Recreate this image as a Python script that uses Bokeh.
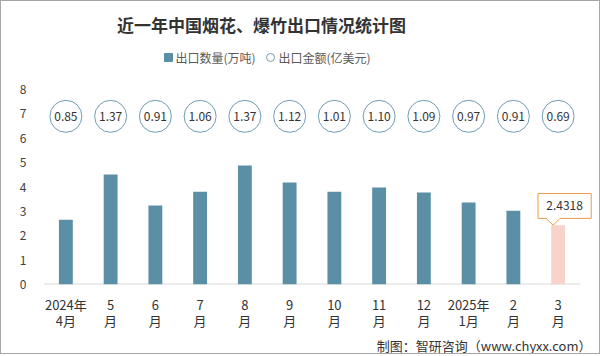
from bokeh.plotting import figure
from bokeh.models import ColumnDataSource, Range1d, LinearAxis, FixedTicker, Title
from bokeh.embed import file_html
from bokeh.resources import INLINE
from bokeh.core.properties import value

# ---- data ----
month_line1 = ["2024年", "5", "6", "7", "8", "9", "10", "11", "12", "2025年", "2", "3"]
month_line2 = ["4月", "月", "月", "月", "月", "月", "月", "月", "月", "1月", "月", "月"]
quantity = [2.66, 4.51, 3.24, 3.81, 4.88, 4.18, 3.81, 3.98, 3.77, 3.36, 3.03, 2.4318]  # 万吨
amount = [0.85, 1.37, 0.91, 1.06, 1.37, 1.12, 1.01, 1.10, 1.09, 0.97, 0.91, 0.69]   # 亿美元
y_ticks = [0, 1, 2, 3, 4, 5, 6, 7, 8]
series_names = ["出口数量(万吨)", "出口金额(亿美元)"]
title_text = "近一年中国烟花、爆竹出口情况统计图"
footer_text = "制图：智研咨询（www.chyxx.com）"

FONT = "Noto Sans CJK SC"
BAR = "#5B8FA6"
HI = "#F8D3C9"
CIRC = "#6F9DB3"
idx = list(range(len(quantity)))

W, H = 600, 354
LEFT, BOTTOM = 42, 71
PX_X = 44.75          # pixels per category
PX_Y = 24.375         # pixels per unit
frame_h = H - BOTTOM
x_end = -0.5 + (W - LEFT) / PX_X
y_end = frame_h / PX_Y


def dx(cx):   # canvas x -> data x
    return (cx - LEFT) / PX_X - 0.5


def dy(cy):   # canvas y -> data y
    return (frame_h - cy) / PX_Y


p = figure(width=W, height=H, x_range=Range1d(-0.5, x_end), y_range=Range1d(0, y_end),
           output_backend="svg", toolbar_location=None, title_location=None,
           x_axis_type=None, y_axis_type=None,
           min_border_left=LEFT, min_border_right=0, min_border_top=0, min_border_bottom=BOTTOM)
p.styles = {"border": "1px solid #a6a6a6"}
p.outline_line_color = None
p.background_fill_color = "white"
p.border_fill_color = "white"

# y axis
yaxis = LinearAxis(ticker=FixedTicker(ticks=y_ticks), axis_line_color=None,
                   major_tick_line_color=None, minor_tick_line_color=None,
                   major_label_standoff=11, major_label_text_font_size="12px",
                   major_label_text_color="#404040", major_label_text_font=FONT)
p.add_layout(yaxis, "left")

# x axes (two label lines)
for lines, standoff in ((month_line1, 4), (month_line2, -12)):
    ax = LinearAxis(ticker=FixedTicker(ticks=idx), axis_line_color=None,
                    major_tick_line_color=None, minor_tick_line_color=None,
                    major_label_standoff=standoff, major_label_text_font_size="13px",
                    major_label_text_color="#333333", major_label_text_font=FONT,
                    major_label_overrides={i: t for i, t in enumerate(lines)})
    p.add_layout(ax, "below")

# footer
foot = Title(text=footer_text, align="right", text_font=FONT, standoff=2, offset=10,
             text_font_size="13px", text_font_style="normal", text_color="#333333")
p.add_layout(foot, "below")

# title
p.text(x=[dx(260)], y=[dy(23)], text=[title_text], text_align="center", text_baseline="middle",
       text_font=value(FONT), text_font_size="17px", text_font_style="bold", text_color="#333333")

# legend (manual)
p.scatter(x=[dx(167)], y=[dy(56)], marker="square", size=8, fill_color=BAR, line_color=BAR)
p.text(x=[dx(174)], y=[dy(56)], text=[series_names[0]], text_align="left", text_baseline="middle",
       text_font=value(FONT), text_font_size="12px", text_color="#595959")
p.scatter(x=[dx(269)], y=[dy(56)], marker="circle", size=8, fill_color="white", line_color=CIRC)
p.text(x=[dx(277)], y=[dy(56)], text=[series_names[1]], text_align="left", text_baseline="middle",
       text_font=value(FONT), text_font_size="12px", text_color="#595959")

# baseline
p.segment(x0=[idx[0] - 0.5], y0=[0], x1=[idx[-1] + 0.5], y1=[0], line_color="#d9d9d9", line_width=2)

# bars
src_main = ColumnDataSource(dict(x=idx[:-1], y=quantity[:-1]))
src_last = ColumnDataSource(dict(x=idx[-1:], y=quantity[-1:]))
p.vbar(x="x", top="y", width=0.31, source=src_main, fill_color=BAR, line_color=None)
p.vbar(x="x", top="y", width=0.31, source=src_last, fill_color=HI, line_color=None)

# amount circles
circ_y = [6.9] * len(amount)
p.scatter(x=idx, y=circ_y, size=32, marker="circle", fill_color="white",
          line_color=CIRC, line_width=1)
p.text(x=idx, y=circ_y, text=["%.2f" % a for a in amount], text_align="center",
       text_baseline="middle", text_font_size="12px", text_color="#333333",
       text_font=value(FONT))

# callout for last bar
v = quantity[-1]
xi = idx[-1]
L, R, B, T = xi - 0.45, xi + 0.74, v + 0.28, v + 1.30
p.patch(x=[L, R, R, xi + 0.04, xi - 0.11, xi - 0.27, L],
        y=[T, T, B, B, v, B, B], fill_color="white", line_color="#ED9A4B", line_width=1)
p.text(x=[(L + R) / 2], y=[(B + T) / 2], text=[str(v)], text_align="center",
       text_baseline="middle", text_font_size="12px", text_color="#333333",
       text_font=value(FONT))

open("out.html", "w").write(file_html(p, INLINE))
